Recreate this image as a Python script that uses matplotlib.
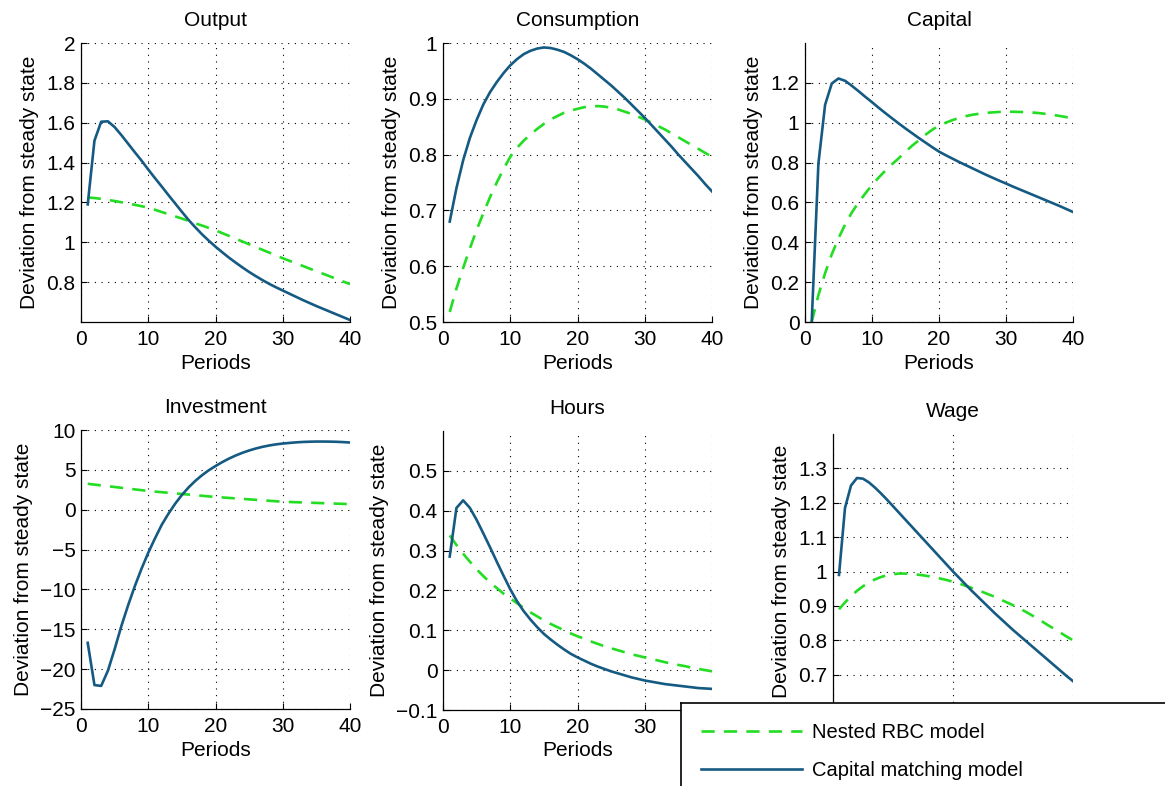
import numpy as np
import matplotlib
matplotlib.use('Agg')
import matplotlib.pyplot as plt
from matplotlib.lines import Line2D

font = {'family': 'Liberation Sans', 'size': 15}
matplotlib.rc('font', **font)

periods = np.arange(1, 41)

# Nested RBC model (dashed) and capital matching model (solid)
output_rbc = [1.225, 1.222, 1.218, 1.213, 1.207, 1.201, 1.195, 1.188, 1.181, 1.174,
              1.163, 1.152, 1.141, 1.130, 1.119, 1.107, 1.095, 1.084, 1.072, 1.060,
              1.046, 1.032, 1.018, 1.004, 0.990, 0.976, 0.962, 0.948, 0.934, 0.920,
              0.907, 0.894, 0.881, 0.868, 0.855, 0.842, 0.829, 0.816, 0.803, 0.790]
output_cm = [1.190, 1.510, 1.605, 1.607, 1.578, 1.538, 1.495, 1.452, 1.410, 1.365,
             1.322, 1.280, 1.237, 1.195, 1.153, 1.112, 1.075, 1.040, 1.008, 0.978,
             0.950, 0.923, 0.898, 0.874, 0.851, 0.830, 0.810, 0.791, 0.774, 0.758,
             0.742, 0.726, 0.710, 0.695, 0.680, 0.666, 0.652, 0.638, 0.624, 0.610]

cons_rbc = [0.518, 0.560, 0.597, 0.632, 0.665, 0.695, 0.724, 0.750, 0.774, 0.796,
            0.812, 0.825, 0.836, 0.846, 0.855, 0.863, 0.869, 0.875, 0.879, 0.882,
            0.885, 0.886, 0.887, 0.886, 0.884, 0.881, 0.877, 0.873, 0.868, 0.863,
            0.857, 0.851, 0.845, 0.838, 0.831, 0.824, 0.817, 0.810, 0.803, 0.796]
cons_cm = [0.680, 0.740, 0.790, 0.830, 0.862, 0.890, 0.912, 0.930, 0.946, 0.960,
           0.971, 0.980, 0.986, 0.990, 0.992, 0.991, 0.988, 0.984, 0.978, 0.971,
           0.963, 0.954, 0.944, 0.934, 0.924, 0.913, 0.902, 0.890, 0.878, 0.866,
           0.853, 0.840, 0.827, 0.814, 0.800, 0.787, 0.774, 0.761, 0.747, 0.734]

capital_rbc = [0.000, 0.135, 0.245, 0.340, 0.420, 0.490, 0.550, 0.600, 0.645, 0.687,
               0.725, 0.760, 0.792, 0.822, 0.855, 0.885, 0.912, 0.940, 0.965, 0.985,
               1.000, 1.013, 1.024, 1.033, 1.040, 1.045, 1.049, 1.052, 1.054, 1.055,
               1.055, 1.054, 1.053, 1.051, 1.048, 1.044, 1.039, 1.034, 1.028, 1.021]
capital_cm = [0.000, 0.795, 1.090, 1.197, 1.222, 1.210, 1.185, 1.158, 1.130, 1.103,
              1.075, 1.048, 1.022, 0.996, 0.971, 0.947, 0.923, 0.900, 0.877, 0.855,
              0.837, 0.820, 0.803, 0.787, 0.771, 0.755, 0.739, 0.724, 0.709, 0.695,
              0.680, 0.666, 0.652, 0.638, 0.624, 0.610, 0.596, 0.582, 0.567, 0.552]

invest_rbc = [3.25, 3.15, 3.05, 2.95, 2.85, 2.75, 2.65, 2.55, 2.45, 2.35,
              2.27, 2.20, 2.12, 2.05, 1.97, 1.90, 1.82, 1.75, 1.67, 1.60,
              1.54, 1.48, 1.42, 1.36, 1.30, 1.24, 1.18, 1.12, 1.06, 1.00,
              0.97, 0.94, 0.91, 0.88, 0.85, 0.82, 0.79, 0.76, 0.73, 0.70]
invest_cm = [-16.7, -22.0, -22.1, -20.2, -17.5, -14.6, -12.0, -9.6, -7.4, -5.4,
             -3.6, -1.9, -0.5, 0.75, 1.85, 2.8, 3.62, 4.33, 4.95, 5.48,
             5.97, 6.41, 6.8, 7.14, 7.43, 7.68, 7.89, 8.06, 8.2, 8.3,
             8.38, 8.45, 8.5, 8.53, 8.55, 8.55, 8.54, 8.52, 8.48, 8.43]

hours_rbc = [0.338, 0.314, 0.292, 0.272, 0.253, 0.236, 0.220, 0.206, 0.192, 0.180,
             0.168, 0.156, 0.145, 0.135, 0.125, 0.116, 0.108, 0.100, 0.092, 0.085,
             0.079, 0.072, 0.066, 0.060, 0.055, 0.050, 0.045, 0.040, 0.036, 0.032,
             0.028, 0.024, 0.020, 0.016, 0.013, 0.010, 0.006, 0.003, 0.000, -0.003]
hours_cm = [0.285, 0.407, 0.426, 0.407, 0.377, 0.343, 0.308, 0.272, 0.237, 0.203,
            0.173, 0.148, 0.127, 0.108, 0.091, 0.077, 0.064, 0.052, 0.041, 0.032,
            0.024, 0.016, 0.009, 0.003, -0.003, -0.008, -0.013, -0.018, -0.022, -0.026,
            -0.029, -0.032, -0.035, -0.037, -0.039, -0.041, -0.043, -0.045, -0.046, -0.047]

wage_rbc = [0.890, 0.910, 0.928, 0.944, 0.957, 0.968, 0.977, 0.984, 0.989, 0.992,
            0.994, 0.994, 0.993, 0.991, 0.989, 0.986, 0.983, 0.979, 0.975, 0.970,
            0.965, 0.959, 0.953, 0.946, 0.940, 0.933, 0.926, 0.918, 0.910, 0.902,
            0.893, 0.884, 0.874, 0.864, 0.853, 0.842, 0.832, 0.821, 0.810, 0.800]
wage_cm = [0.990, 1.185, 1.250, 1.272, 1.270, 1.259, 1.244, 1.227, 1.209, 1.190,
           1.171, 1.152, 1.133, 1.114, 1.095, 1.076, 1.057, 1.038, 1.019, 1.000,
           0.982, 0.964, 0.946, 0.929, 0.912, 0.895, 0.878, 0.862, 0.846, 0.830,
           0.815, 0.800, 0.785, 0.770, 0.755, 0.740, 0.725, 0.710, 0.695, 0.681]

GREEN = '#22dd22'
BLUE = '#155a82'
W, H = 1165, 786


def px_axes(fig, left, top, right, bottom):
    '''Add axes given pixel box (origin top-left)'''
    return fig.add_axes([left / W, (H - bottom) / H, (right - left) / W, (bottom - top) / H])


def irf_panel(ax, rbc, cm, title, ylim, yticks, xticks=(0, 10, 20, 30, 40), xhide=()):
    '''One impulse response panel, MATLAB look'''
    ax.plot(periods, rbc, color=GREEN, lw=1.9, dashes=(5, 3.5))
    ax.plot(periods, cm, color=BLUE, lw=1.9)
    ax.set_xlim(0, 40)
    ax.set_ylim(*ylim)
    ax.set_xticks(xticks)
    # tick labels that sit under the legend box are left out
    ax.set_xticklabels(['' if t in xhide else '%g' % t for t in xticks])
    ax.set_yticks(yticks)
    ax.set_yticklabels([('%g' % t).replace('-', '\u2212') for t in yticks])
    ax.grid(True, color='black', lw=0.8, linestyle=(0, (1, 5)))
    ax.tick_params(direction='in', length=4, width=0.8, labelsize=15, pad=4)
    ax.tick_params(axis='x', pad=6)
    for s in ['top', 'right']:
        ax.spines[s].set_visible(False)
    for s in ['left', 'bottom']:
        ax.spines[s].set_linewidth(0.9)
    ax.set_title(title, fontsize=15, pad=12)
    ax.set_ylabel('Deviation from steady state', fontsize=15, labelpad=5)
    return ax


fig = plt.figure(figsize=(W / 100, H / 100), dpi=100)

ax = irf_panel(px_axes(fig, 81, 43, 350, 322), output_rbc, output_cm, 'Output',
               (0.6, 2.0), [0.8, 1.0, 1.2, 1.4, 1.6, 1.8, 2.0])
ax.set_xlabel('Periods', labelpad=3)
ax = irf_panel(px_axes(fig, 443, 43, 712, 322), cons_rbc, cons_cm, 'Consumption',
               (0.5, 1.0), [0.5, 0.6, 0.7, 0.8, 0.9, 1.0])
ax.set_xlabel('Periods', labelpad=3)
ax = irf_panel(px_axes(fig, 805, 43, 1073, 322), capital_rbc, capital_cm, 'Capital',
               (0.0, 1.4), [0, 0.2, 0.4, 0.6, 0.8, 1.0, 1.2])
ax.set_xlabel('Periods', labelpad=3)
ax = irf_panel(px_axes(fig, 81, 430, 350, 709), invest_rbc, invest_cm, 'Investment',
               (-25, 10), [-25, -20, -15, -10, -5, 0, 5, 10])
ax.set_xlabel('Periods', labelpad=3)
ax = irf_panel(px_axes(fig, 443, 431, 712, 710), hours_rbc, hours_cm, 'Hours',
               (-0.1, 0.6), [-0.1, 0, 0.1, 0.2, 0.3, 0.4, 0.5], xhide=(40,))
ax.set_xlabel('Periods', labelpad=3)
irf_panel(px_axes(fig, 833, 434, 1073, 709), wage_rbc, wage_cm, 'Wage',
          (0.6, 1.4), [0.7, 0.8, 0.9, 1.0, 1.1, 1.2, 1.3], xticks=(0, 20, 40),
          xhide=(0, 20, 40))

# legend box sits over the bottom right corner, clipped by the figure edge
lax = fig.add_axes([681 / W, -0.02, 0.5, (H - 703) / H + 0.02])
lax.set_xticks([])
lax.set_yticks([])
lax.set_facecolor('white')
for s in lax.spines.values():
    s.set_linewidth(1.2)
    s.set_color('black')
handles = [Line2D([], [], color=GREEN, lw=1.9, dashes=(5, 3.5)),
           Line2D([], [], color=BLUE, lw=1.9)]
lax.legend(handles, ['Nested RBC model', 'Capital matching model'],
           loc='upper left', bbox_to_anchor=(0.0, 1.0), frameon=False,
           fontsize=14.5, handlelength=5.0, handletextpad=0.5, labelspacing=0.95,
           borderaxespad=0.6)

plt.savefig('out.png', dpi=100)
